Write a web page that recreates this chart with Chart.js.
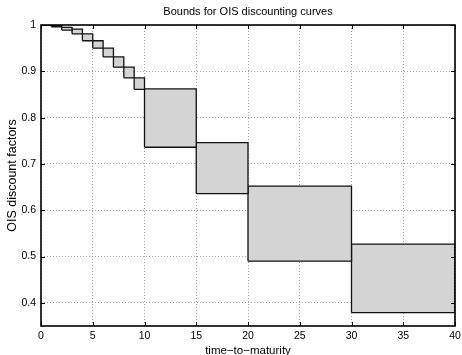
<!DOCTYPE html>
<html>
<head>
<meta charset="utf-8">
<script src="https://cdn.jsdelivr.net/npm/chart.js@4.4.1/dist/chart.umd.min.js"></script>
<style>
html,body{margin:0;padding:0;background:#fff;}
#wrap{width:462px;height:355px;}
</style>
</head>
<body>
<div id="wrap"><canvas id="c" width="462" height="355"></canvas></div>
<script>
// Interval boundaries (years)
const maturities = [0, 1, 2, 3, 4, 5, 6, 7, 8, 9, 10, 15, 20, 30, 40];
// Upper and lower bounds of the OIS discount factor on each interval
const upperBounds = [1.000, 0.9985, 0.995, 0.991, 0.981, 0.966, 0.950, 0.931, 0.909, 0.886, 0.862, 0.746, 0.652, 0.527];
const lowerBounds = [0.9995, 0.996, 0.989, 0.981, 0.966, 0.950, 0.931, 0.909, 0.886, 0.861, 0.736, 0.636, 0.490, 0.379];
const xTicks = [0, 5, 10, 15, 20, 25, 30, 35, 40];
const yTicks = [0.4, 0.5, 0.6, 0.7, 0.8, 0.9, 1.0];

const FONT = "'Liberation Sans', Arial, Helvetica, sans-serif";

const datasets = upperBounds.map((hi, i) => {
  const t0 = maturities[i], t1 = maturities[i + 1], lo = lowerBounds[i];
  return {
    data: [{x:t0,y:lo},{x:t0,y:hi},{x:t1,y:hi},{x:t1,y:lo},{x:t0,y:lo}],
    showLine: true,
    fill: 'shape',
    backgroundColor: '#d4d4d4',
    borderColor: '#111',
    borderWidth: 1.3,
    pointRadius: 0,
    tension: 0
  };
});

const boxPlugin = {
  id: 'matlabBox',
  afterDatasetsDraw(chart) {
    const {ctx, chartArea: a, scales} = chart;
    ctx.save();
    ctx.strokeStyle = '#000';
    ctx.lineWidth = 1;
    const tl = 4;
    ctx.beginPath();
    xTicks.forEach(v => {
      const px = Math.round(scales.x.getPixelForValue(v)) + 0.5;
      ctx.moveTo(px, a.bottom); ctx.lineTo(px, a.bottom - tl);
      ctx.moveTo(px, a.top); ctx.lineTo(px, a.top + tl);
    });
    yTicks.forEach(v => {
      const py = Math.round(scales.y.getPixelForValue(v)) + 0.5;
      ctx.moveTo(a.left, py); ctx.lineTo(a.left + tl, py);
      ctx.moveTo(a.right, py); ctx.lineTo(a.right - tl, py);
    });
    ctx.stroke();
    ctx.lineWidth = 1.6;
    ctx.strokeRect(a.left, a.top, a.right - a.left, a.bottom - a.top);
    ctx.restore();
  }
};

new Chart(document.getElementById('c'), {
  type: 'scatter',
  data: { datasets },
  options: {
    responsive: false,
    animation: false,
    layout: { padding: { left: 0, right: 7, top: 0, bottom: 0 } },
    plugins: {
      legend: { display: false },
      tooltip: { enabled: false },
      title: {
        display: true,
        text: 'Bounds for OIS discounting curves',
        fullSize: false,
        color: '#000',
        font: { family: FONT, size: 11, weight: 'normal', lineHeight: 1.2 },
        padding: { top: 5, bottom: 6.8 }
      }
    },
    scales: {
      x: {
        type: 'linear',
        min: 0, max: 40,
        afterBuildTicks: s => { s.ticks = xTicks.map(v => ({value: v})); },
        afterFit: s => { s.height = 29; s.paddingRight = 0; s.paddingLeft = 0; },
        ticks: {
          color: '#000', padding: 4,
          font: { family: FONT, size: 10.5 },
          callback: v => String(v)
        },
        grid: { color: '#a0a0a0', lineWidth: 1, drawTicks: false },
        border: { display: false, dash: [1, 2] },
        title: {
          display: true, text: 'time\u2212to\u2212maturity', color: '#000',
          font: { family: FONT, size: 11.5 }, padding: { top: 0, bottom: -3 }
        }
      },
      y: {
        type: 'linear',
        min: 0.35, max: 1,
        afterBuildTicks: s => { s.ticks = yTicks.map(v => ({value: v})); },
        afterFit: s => { s.width = 41; s.paddingTop = 0; s.paddingBottom = 0; },
        ticks: {
          color: '#000', padding: 5,
          font: { family: FONT, size: 10.5 },
          callback: v => String(Number(v.toFixed(1)))
        },
        grid: { color: '#a0a0a0', lineWidth: 1, drawTicks: false },
        border: { display: false, dash: [1, 2] },
        title: {
          display: true, text: 'OIS discount factors', color: '#000',
          font: { family: FONT, size: 12.5 }, padding: { top: 5, bottom: 0 }
        }
      }
    }
  },
  plugins: [boxPlugin]
});
</script>
</body>
</html>
